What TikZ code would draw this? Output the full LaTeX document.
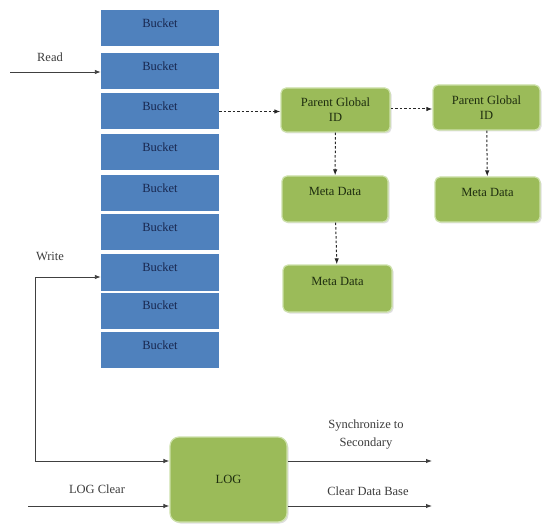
\documentclass[tikz,border=0pt]{standalone}
\usepackage{fontspec}
\setmainfont{Liberation Serif}
\usetikzlibrary{arrows.meta, positioning, shadows}
\definecolor{bucketblue}{RGB}{79, 129, 189}
\definecolor{bucketink}{RGB}{25, 40, 80}
\definecolor{metagreen}{RGB}{155, 187, 89}
\definecolor{metaedge}{RGB}{205, 225, 170}
\definecolor{metaink}{RGB}{30, 45, 15}
\definecolor{labelink}{RGB}{60, 60, 60}
\tikzset{
  bucket/.style={rectangle, fill=bucketblue, minimum width=118pt, minimum height=36pt,
              inner sep=0pt, text depth=10pt, text=bucketink, font=\fontsize{12.5}{14}\selectfont},
  greenbox/.style={rectangle, rounded corners=5pt, draw=metaedge, line width=1.2pt, fill=metagreen,
              inner sep=2pt, align=center, text=metaink, font=\fontsize{12.5}{15}\selectfont,
              drop shadow={shadow xshift=1.5pt, shadow yshift=-1.5pt, fill=black!25}},
  lbl/.style={text=labelink, align=center, font=\fontsize{12.5}{18}\selectfont},
  flow/.style={-{Latex[length=6pt, width=4.5pt]}, line width=0.9pt, draw=black!75},
  dflow/.style={flow, line width=1pt, draw=black!85, dash pattern=on 2.5pt off 2pt},
}

\begin{document}
\begin{tikzpicture}[x=1pt, y=-1pt]
    \useasboundingbox (0,0) rectangle (542,527);

    % bucket column
    \foreach \i/\y in {1/28, 2/71.5, 3/111.5, 4/152, 5/193, 6/232.5, 7/272.5, 8/310.5, 9/350}
        \node[bucket] (b\i) at (160,\y) {Bucket};

    % parent ids and meta data
    \node[greenbox, minimum width=109pt, minimum height=44pt] (pg1) at (335.5,110) {Parent Global\\ ID};
    \node[greenbox, minimum width=107pt, minimum height=45pt] (pg2) at (486.5,107.5) {Parent Global\\ ID};
    \node[greenbox, minimum width=106pt, minimum height=46pt] (md1) at (335,199) {Meta Data\\ \mbox{}};
    \node[greenbox, minimum width=105pt, minimum height=45pt] (md3) at (487.5,199.5) {Meta Data\\ \mbox{}};
    \node[greenbox, minimum width=109pt, minimum height=47pt] (md2) at (337.5,288.5) {Meta Data\\ \mbox{}};

    \draw[dflow] (b3.east) -- (b3.east -| pg1.west);
    \draw[dflow] (pg1.east |- 0,109) -- (pg2.west |- 0,109);
    \draw[dflow] (pg1) -- (md1);
    \draw[dflow] (pg2) -- (md3);
    \draw[dflow] (md1) -- (md2);

    % log
    \node[greenbox, minimum width=117pt, minimum height=85pt, rounded corners=9pt] (log) at (228.5,479.5) {LOG};

    \coordinate (rd) at (10,72);
    \coordinate (wtop) at (35,277);
    \coordinate (wbot) at (35,461);
    \coordinate (lclr) at (28,506);
    \coordinate (sync) at (432,461);
    \coordinate (cdb) at (432,506);

    \draw[flow] (rd) -- (rd -| b2.west);
    \draw[flow, {Latex[length=6pt, width=4.5pt]}-{Latex[length=6pt, width=4.5pt]}]
        (wtop -| b7.west) -- (wtop) -- (wbot) -- (wbot -| log.west);
    \draw[flow] (lclr) -- (lclr -| log.west);
    \draw[flow] (sync -| log.east) -- (sync);
    \draw[flow] (cdb -| log.east) -- (cdb);

    \node[lbl] (readlbl) at (50,57) {Read};
    \node[lbl] (writelbl) at (50,256) {Write};
    \node[lbl] (clrlbl) at (97,489) {LOG Clear};
    \node[lbl] (synclbl) at (366,435) {Synchronize to\\ Secondary};
    \node[lbl] (cdblbl) at (368,491) {Clear Data Base};
\end{tikzpicture}
\end{document}
